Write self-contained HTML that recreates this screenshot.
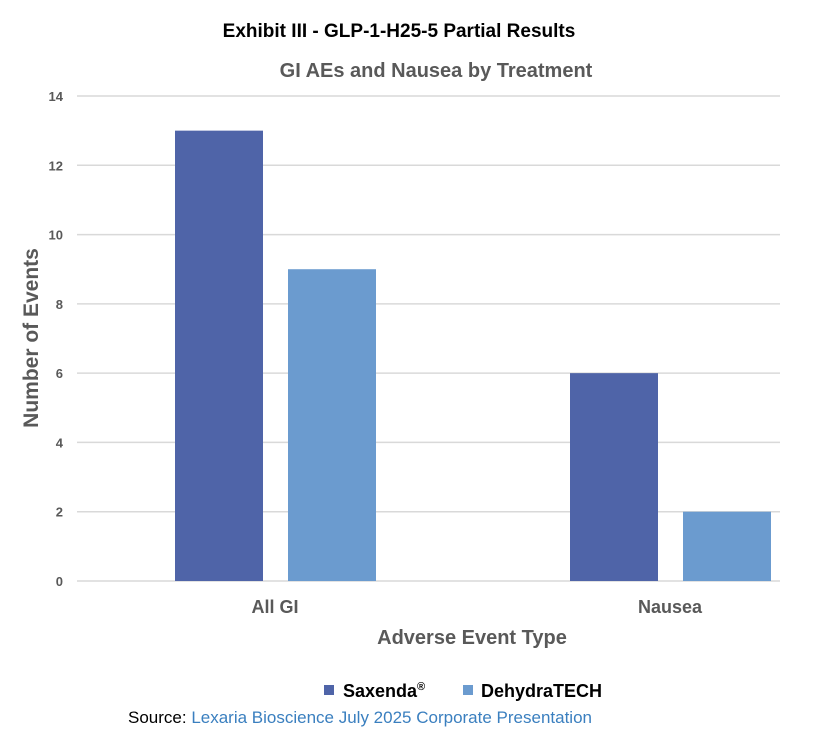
<!DOCTYPE html>
<html><head><meta charset="utf-8"><style>
body{margin:0;background:#fff;width:828px;height:744px;overflow:hidden;font-family:"Liberation Sans",sans-serif}
</style></head><body>
<svg width="828" height="744" xmlns="http://www.w3.org/2000/svg">
<text x="399" y="37" text-anchor="middle" font-size="19" font-weight="bold" fill="#000">Exhibit III - GLP-1-H25-5 Partial Results</text>
<text x="436" y="77" text-anchor="middle" font-size="20" font-weight="bold" fill="#595959">GI AEs and Nausea by Treatment</text>
<g id="grid"></g><g id="bars"></g><g id="labels"></g>
<text transform="translate(38,338) rotate(-90)" text-anchor="middle" font-size="21" font-weight="bold" fill="#595959">Number of Events</text>
<text x="472" y="644" text-anchor="middle" font-size="20" font-weight="bold" fill="#595959">Adverse Event Type</text>
<g>
<rect x="324" y="685" width="10" height="10" fill="#4f64a8"/>
<text x="343" y="697" font-size="18" font-weight="bold" fill="#000">Saxenda<tspan font-size="11" dy="-7">®</tspan></text>
<rect x="463" y="685" width="10" height="10" fill="#6b9bcf"/>
<text x="481" y="697" font-size="18" font-weight="bold" fill="#000">DehydraTECH</text>
</g>
<text x="128" y="723" font-size="17" fill="#000">Source: <tspan fill="#3a7fbf">Lexaria Bioscience July 2025 Corporate Presentation</tspan></text>
</svg>
<script>
const categories=["All GI","Nausea"];
const saxenda=[13,6];
const dehydra=[9,2];
const yTicks=[0,2,4,6,8,10,12,14];
const NS="http://www.w3.org/2000/svg";
const y=v=>581-v*(485/14);
const groupX=[175,570];
function mk(t,a,p){const e=document.createElementNS(NS,t);for(const k in a)e.setAttribute(k,a[k]);p.appendChild(e);return e;}
const grid=document.getElementById('grid'),bars=document.getElementById('bars'),labels=document.getElementById('labels');
yTicks.forEach(v=>{
 const l=mk('line',{x1:77,x2:780,y1:y(v),y2:y(v),stroke:'#d9d9d9','stroke-width':1.5},grid);
 
 
 const t=mk('text',{x:63,y:y(v)+5,'text-anchor':'end','font-size':13,'font-weight':'bold',fill:'#595959'},labels);
 t.textContent=v;
 
 
});
categories.forEach((c,i)=>{
 const x0=groupX[i];
 const b1=mk('rect',{x:x0,y:y(saxenda[i]),width:88,height:y(0)-y(saxenda[i]),fill:'#4f64a8'},bars);
 
 
 const b2=mk('rect',{x:x0+113,y:y(dehydra[i]),width:88,height:y(0)-y(dehydra[i]),fill:'#6b9bcf'},bars);
 
 
 const t=mk('text',{x:x0+100,y:613,'text-anchor':'middle','font-size':18,'font-weight':'bold',fill:'#595959'},labels);
 t.textContent=c;
 
 
});
</script>
</body></html>
